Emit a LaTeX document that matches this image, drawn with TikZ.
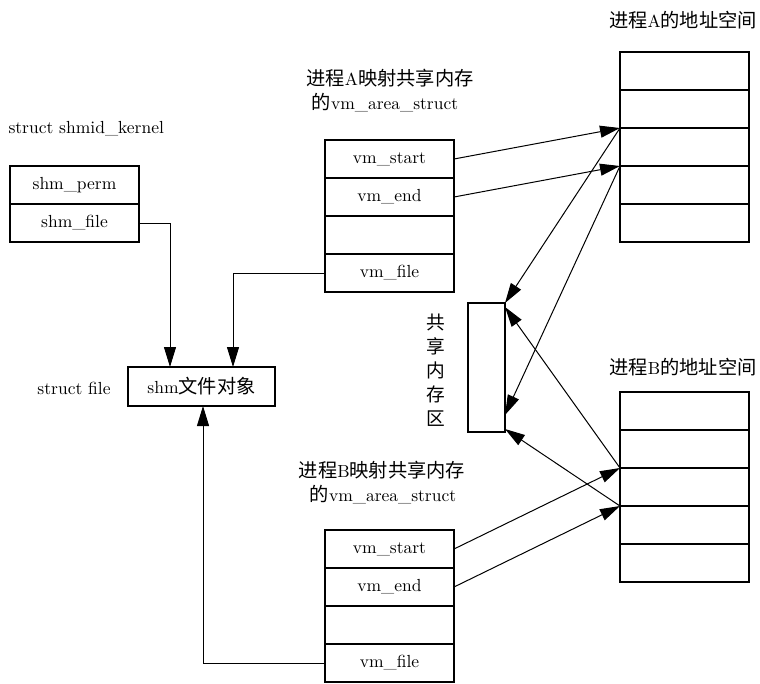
\documentclass[tikz,border=0pt]{standalone}
\usepackage{fontspec}
\setmainfont{lmroman10-regular.otf}
\newfontfamily\cjk{Noto Sans CJK SC}[Scale=1.1]
\newcommand{\zh}[1]{{\cjk #1}}
\usetikzlibrary{arrows.meta,calc}
\begin{document}
\begin{tikzpicture}[x=1pt,y=-1pt,
  font=\fontsize{17.5}{20}\selectfont,
  box/.style={draw, line width=1.2pt, minimum width=129pt, minimum height=38pt, inner sep=0pt, outer sep=0pt},
  ar/.style={line width=1pt, -{Triangle[length=20pt,width=12pt]}},
  ln/.style={line width=1pt}]
\useasboundingbox (0,0) rectangle (760,683);
% shmid_kernel
\node[anchor=west] (tk) at (5,129) {struct shmid\_kernel};
\node[box] (sP) at (74.5,185) {shm\_perm};
\node[box] (sF) at (74.5,223) {shm\_file};
% struct file
\node (tf) at (74,388) {struct file};
\node[box, minimum width=147pt, minimum height=39pt] (fobj) at (201.5,386.5) {shm\zh{文件对象}};
% vm_area A
\node (tva1) at (390,78) {\zh{进程}A\zh{映射共享内存}};
\node (tva2) at (385,103) {\zh{的}vm\_area\_struct};
\node[box] (vaS) at (389.5,159) {vm\_start};
\node[box] (vaE) at (389.5,197) {vm\_end};
\node[box] (vaX) at (389.5,235) {};
\node[box] (vaF) at (389.5,273) {vm\_file};
% vm_area B
\node (tvb1) at (382,470) {\zh{进程}B\zh{映射共享内存}};
\node (tvb2) at (383,495) {\zh{的}vm\_area\_struct};
\node[box] (vbS) at (389.5,549) {vm\_start};
\node[box] (vbE) at (389.5,587) {vm\_end};
\node[box] (vbX) at (389.5,625) {};
\node[box] (vbF) at (389.5,663) {vm\_file};
% address space A
\node (taA) at (683,20) {\zh{进程}A\zh{的地址空间}};
\node[box] (aA1) at (684.5,71) {};
\node[box] (aA2) at (684.5,109) {};
\node[box] (aA3) at (684.5,147) {};
\node[box] (aA4) at (684.5,185) {};
\node[box] (aA5) at (684.5,223) {};
% address space B
\node (taB) at (683,367) {\zh{进程}B\zh{的地址空间}};
\node[box] (aB1) at (684.5,411) {};
\node[box] (aB2) at (684.5,449) {};
\node[box] (aB3) at (684.5,487) {};
\node[box] (aB4) at (684.5,525) {};
\node[box] (aB5) at (684.5,563) {};
% shared memory
\node[box, minimum width=37pt, minimum height=129pt] (sh) at (486.5,367.5) {};
\node[font=\fontsize{17}{24}\selectfont\cjk, align=center] (tsh) at (436,370) {共\\享\\内\\存\\区};
% connectors
\draw[ar] (sF.east) -| ([xshift=-31.5pt]fobj.north);
\draw[ar] (vaF.west) -| ([xshift=31.5pt]fobj.north);
\draw[ar] (vbF.west) -| ([xshift=1.5pt]fobj.south);
\draw[ar] (vaS.east) -- (aA2.south west);
\draw[ar] (vaE.east) -- (aA3.south west);
\draw[ar] (aA2.south west) -- (sh.north east);
\draw[ar] (aA3.south west) -- ([yshift=17pt]sh.south east);
\draw[ar] (vbS.east) -- (aB2.south west);
\draw[ar] (vbE.east) -- (aB3.south west);
\draw[ar] (aB2.south west) -- ([yshift=-4pt]sh.north east);
\draw[ar] (aB3.south west) -- ([yshift=3pt]sh.south east);
\end{tikzpicture}
\end{document}
